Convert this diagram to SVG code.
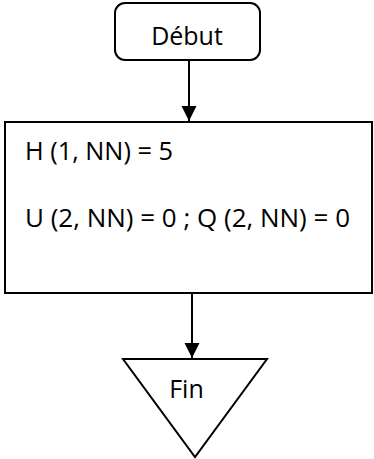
<svg xmlns="http://www.w3.org/2000/svg" width="374" height="459" viewBox="0 0 374 459">
  <style>
    .shape { fill: #ffffff; stroke: #000000; stroke-width: 2; }
    .label { font-family: "Open Sans", "Noto Sans", "Liberation Sans", sans-serif; font-size: 25px; fill: #000000; }
    .link { stroke: #000000; stroke-width: 2; fill: none; marker-end: url(#arrow); }
  </style>
  <defs>
    <marker id="arrow" viewBox="0 0 10 10" refX="10" refY="5" markerUnits="userSpaceOnUse" markerWidth="15" markerHeight="16" orient="auto">
      <path d="M0,0 L10,5 L0,10 Z" fill="#000000"/>
    </marker>
  </defs>

  <g id="connectors">
    <line class="link" x1="189" y1="60" x2="189" y2="121"/>
    <line class="link" x1="192" y1="293" x2="192" y2="358"/>
  </g>

  <g id="start">
    <rect class="shape" x="115" y="3" width="145" height="57" rx="10" ry="10"/>
    <text class="label" x="187" y="45" text-anchor="middle">Début</text>
  </g>

  <g id="init">
    <rect class="shape" x="5" y="122" width="367" height="171"/>
    <text class="label" x="25" y="160" textLength="148" lengthAdjust="spacingAndGlyphs">H (1, NN) = 5</text>
    <text class="label" x="25" y="227" textLength="325" lengthAdjust="spacingAndGlyphs">U (2, NN) = 0 ; Q (2, NN) = 0</text>
  </g>

  <g id="end">
    <polygon class="shape" points="123,359 267,359 195,457" stroke-width="1.5"/>
    <text class="label" x="186.5" y="398" text-anchor="middle">Fin</text>
  </g>
</svg>
